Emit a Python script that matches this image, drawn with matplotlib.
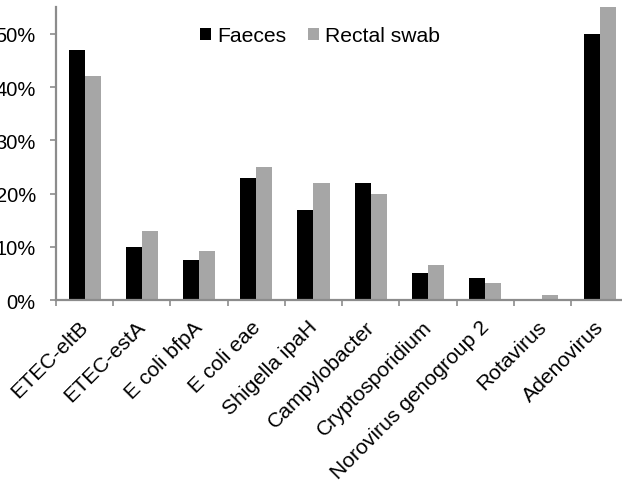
import matplotlib.pyplot as plt
import numpy as np

plt.rcParams['font.family'] = ['Liberation Sans', 'DejaVu Sans']

pathogens = ['ETEC-eltB', 'ETEC-estA', 'E coli bfpA', 'E coli eae', 'Shigella ipaH',
             'Campylobacter', 'Cryptosporidium', 'Norovirus genogroup 2', 'Rotavirus', 'Adenovirus']
faeces = [47.0, 10.0, 7.5, 23.0, 17.0, 22.0, 5.0, 4.1, 0.0, 50.0]
rectal_swab = [42.0, 13.0, 9.2, 25.0, 22.0, 20.0, 6.6, 3.3, 0.9, 56.0]
y_ticks = [0, 10, 20, 30, 40, 50]


def main():
    fig = plt.figure(figsize=(6.22, 4.81), dpi=100)
    ax = fig.add_axes([0.090, 0.374, 0.920, 0.609])

    x = np.arange(len(pathogens))
    w = 0.28
    ax.bar(x - w / 2, faeces, w, color='#000000', label='Faeces')
    ax.bar(x + w / 2, rectal_swab, w, color='#a6a6a6', label='Rectal swab')

    ax.set_xlim(-0.5, len(pathogens) - 0.5)
    ax.set_ylim(0, 55)

    ax.set_yticks(y_ticks)
    ax.set_yticklabels([f"{v}%" for v in y_ticks])
    # major ticks are invisible, only carry the rotated labels (nudged left a bit)
    ax.set_xticks(x - 0.1)
    ax.set_xticklabels(pathogens, rotation=45, ha='right', va='top',
                       rotation_mode='anchor', fontsize=15.2)
    ax.set_xticks(np.arange(len(pathogens) + 1) - 0.5, minor=True)

    grey = '#8c8c8c'
    for side in ['top', 'right']:
        ax.spines[side].set_visible(False)
    for side in ['left', 'bottom']:
        ax.spines[side].set_color(grey)
        ax.spines[side].set_linewidth(1.6)

    ax.tick_params(axis='y', direction='out', length=4, width=1.2, color=grey,
                   labelsize=14.5, pad=10.5)
    ax.tick_params(axis='x', which='major', length=0, pad=12)
    ax.tick_params(axis='x', which='minor', direction='out', length=4, width=1.2,
                   color=grey)

    ax.legend(loc='upper center', bbox_to_anchor=(0.4615, 1.0), ncol=2, frameon=False,
              fontsize=15.2, handlelength=0.52, handleheight=0.52, handletextpad=0.28,
              columnspacing=1.05)

    fig.savefig('out.png', dpi=100)


if __name__ == '__main__':
    main()
